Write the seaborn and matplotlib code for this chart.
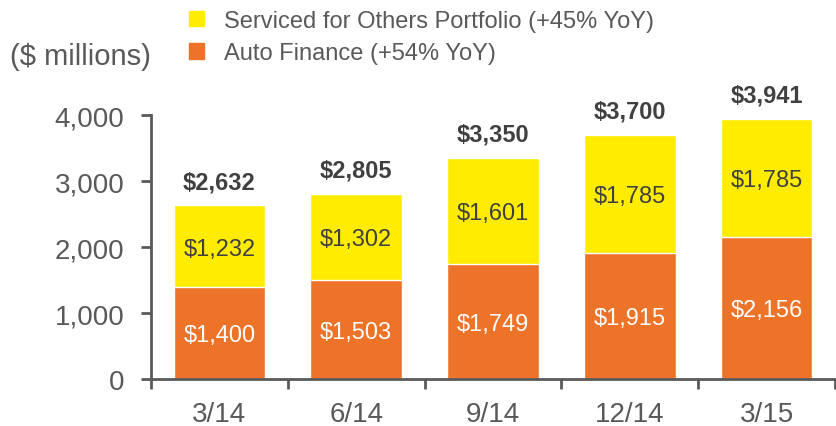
import seaborn as sns
import matplotlib.pyplot as plt
import pandas as pd
from matplotlib.patches import Patch

quarters = ['3/14', '6/14', '9/14', '12/14', '3/15']
auto_finance = [1400, 1503, 1749, 1915, 2156]
serviced = [1232, 1302, 1601, 1785, 1785]
yticks = [0, 1000, 2000, 3000, 4000]

YELLOW = '#FFEC00'
ORANGE = '#EC7328'
GRAY = '#595959'

df = pd.DataFrame({'quarter': quarters, 'auto': auto_finance, 'serviced': serviced})
df['total'] = df['auto'] + df['serviced']

sns.set_style('white')
plt.rcParams['font.family'] = ['Liberation Sans', 'DejaVu Sans']

fig = plt.figure(figsize=(8.37, 4.27), dpi=100)
ax = fig.add_axes([0.1804, 0.110, 0.8172, 0.618])

sns.barplot(data=df, x='quarter', y='total', color=YELLOW, width=0.67,
            saturation=1, ax=ax)
sns.barplot(data=df, x='quarter', y='auto', color=ORANGE, width=0.67,
            saturation=1, ax=ax)

for i, row in df.iterrows():
    ax.text(i, row['auto'] / 2, '${:,}'.format(row['auto']), ha='center',
            va='center_baseline', color='white', fontsize=17)
    ax.text(i, row['auto'] + row['serviced'] / 2, '${:,}'.format(row['serviced']),
            ha='center', va='center_baseline', color='#404040', fontsize=17)
    ax.text(i, row['total'] + 360, '${:,}'.format(row['total']), ha='center',
            va='center', color='#404040', fontsize=17, fontweight='bold')

ax.set_xlim(-0.5, 4.5)
ax.set_ylim(0, 4000)
ax.set_yticks(yticks)
ax.set_yticklabels(['{:,}'.format(v) for v in yticks])
ax.set_xticks(range(len(quarters)))
ax.set_xticklabels(quarters)
ax.set_xticks([i - 0.5 for i in range(len(quarters) + 1)], minor=True)
ax.tick_params(axis='x', which='major', length=0, pad=16, labelsize=20,
               labelcolor=GRAY)
ax.tick_params(axis='x', which='minor', length=7, width=2, color=GRAY,
               direction='out', bottom=True)
ax.tick_params(axis='y', length=7, width=2, color=GRAY, direction='out',
               left=True, labelsize=20, labelcolor=GRAY, pad=12)
ax.set_xlabel('')
ax.set_ylabel('')
sns.despine(ax=ax)
for side in ['left', 'bottom']:
    ax.spines[side].set_color(GRAY)
    ax.spines[side].set_linewidth(2)

fig.text(10 / 837, 1 - 57 / 427, '($ millions)', fontsize=21, color=GRAY,
         va='center', ha='left')

handles = [Patch(color=YELLOW), Patch(color=ORANGE)]
labels = ['Serviced for Others Portfolio (+45% YoY)', 'Auto Finance (+54% YoY)']
leg = fig.legend(handles, labels, loc='upper left',
                 bbox_to_anchor=(184 / 837, 1 - 6 / 427), frameon=False,
                 fontsize=17, handlelength=0.65, handleheight=0.65,
                 handletextpad=0.85, labelspacing=0.45, borderaxespad=0,
                 borderpad=0.2)
for t in leg.get_texts():
    t.set_color(GRAY)

fig.savefig('out.png', dpi=100)
